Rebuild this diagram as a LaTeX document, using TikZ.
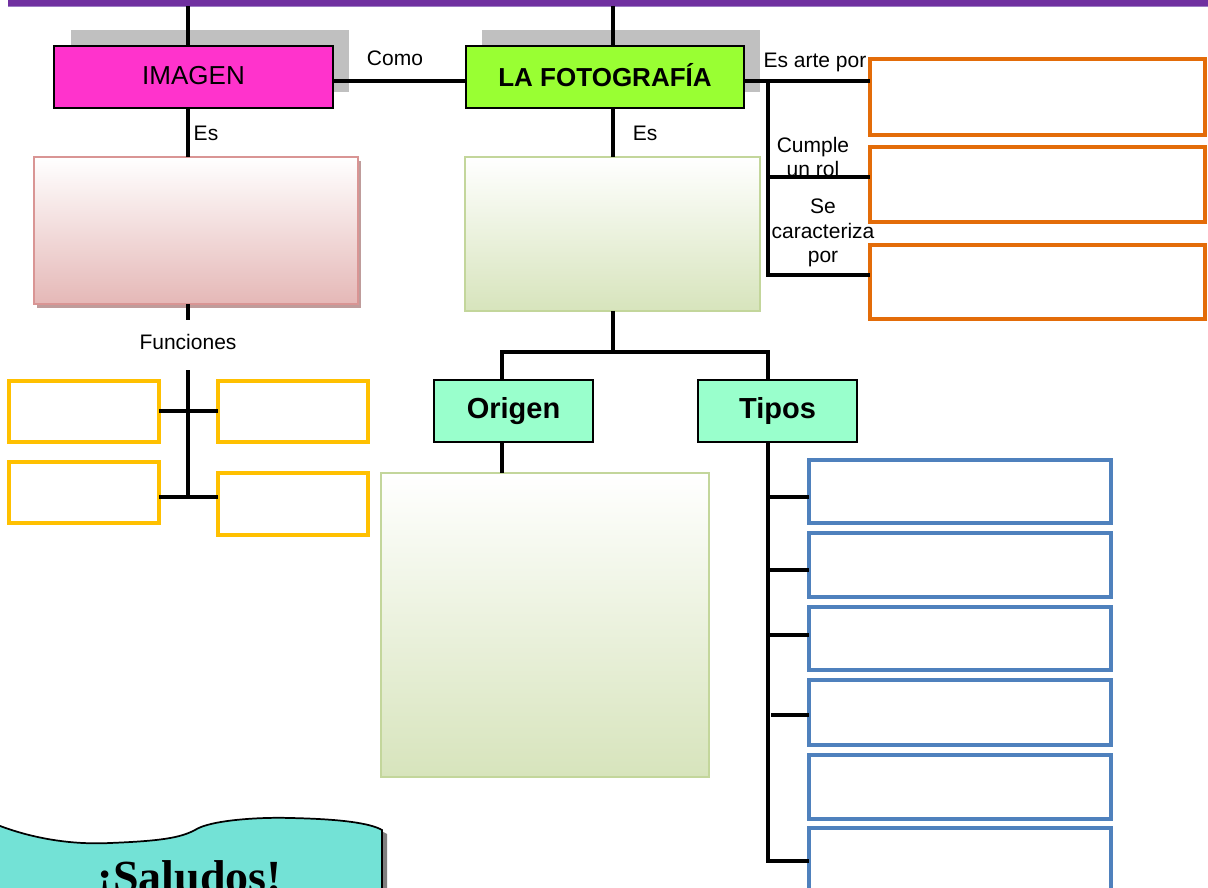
\documentclass[tikz,border=0pt]{standalone}
\usepackage{fontspec}
\setmainfont{Liberation Sans}
\newfontfamily\salfont{Liberation Serif}
\definecolor{purpleC}{HTML}{7030A0}
\definecolor{purpleL}{HTML}{9C7CC4}
\definecolor{magentaC}{HTML}{FF33CC}
\definecolor{limeC}{HTML}{99FF33}
\definecolor{shadowC}{HTML}{C0C0C0}
\definecolor{orangeC}{HTML}{E36C09}
\definecolor{yellowC}{HTML}{FFC000}
\definecolor{blueC}{HTML}{4F81BD}
\definecolor{mintC}{HTML}{99FFCC}
\definecolor{turqC}{HTML}{73E2D6}
\definecolor{pinkB}{HTML}{D99594}
\definecolor{pinkF}{HTML}{E5B8B7}
\definecolor{pinkS}{HTML}{BF9C9B}
\definecolor{greenB}{HTML}{C3D69B}
\definecolor{greenF}{HTML}{D7E4BC}
\definecolor{salShadow}{HTML}{7F7F7F}
\newcommand{\lblfont}{\fontsize{15.75}{18.4}\selectfont}
\tikzset{
  px/.style 2 args={minimum width=#1*0.75pt, minimum height=#2*0.75pt},
  every node/.style={inner sep=0pt, outer sep=0pt, font=\lblfont},
  conn/.style={draw=black, line width=2.6pt, line join=miter},
  titlebox/.style={draw=black, line width=1.5pt, font=\fontsize{19.5}{22}\selectfont},
  mintbox/.style={draw=black, line width=1.5pt, fill=mintC, font=\bfseries\fontsize{21.75}{25}\selectfont},
  obox/.style={draw=orangeC, line width=3pt, fill=white},
  ybox/.style={draw=yellowC, line width=2.6pt, fill=white},
  bbox/.style={draw=blueC, line width=2.8pt, fill=white},
  pinkbox/.style={draw=pinkB, line width=1.6pt, top color=white, bottom color=pinkF},
  greenbox/.style={draw=greenB, line width=1.8pt, top color=white, bottom color=greenF},
}
\begin{document}
\begin{tikzpicture}[x=0.75pt,y=-0.75pt]
\useasboundingbox (0,0) rectangle (1208,888);
\clip (0,0) rectangle (1208,888);
\fill[white] (0,0) rectangle (1208,888);
% top bar
\fill[purpleC] (8,-10) rectangle (1208,6);
\fill[purpleL] (8,6) rectangle (1208,7.5);
% grey shadows behind the title boxes
\fill[shadowC] (71,30) rectangle (349,92);
\fill[shadowC] (482,30) rectangle (760,92);
% pink box shadow
\fill[pinkS] (37,161) rectangle (361,308);
% saludos shape (shadow and shape)
\fill[salShadow] (4,830) .. controls (34,842) and (74,848) .. (114,846)
  .. controls (164,844) and (184,841) .. (199,833)
  .. controls (214,823) and (264,820) .. (294,821)
  .. controls (344,822) and (374,826) .. (387,834) -- (387,900) -- (4,900) -- cycle;
\draw[fill=turqC, line width=1.3pt] (-5,824) .. controls (30,838) and (70,845) .. (110,843)
  .. controls (160,841) and (180,838) .. (195,830)
  .. controls (210,820) and (260,817) .. (290,818)
  .. controls (340,819) and (370,823) .. (382,830) -- (382,900) -- (-5,900) -- cycle;
\node[anchor=base, font=\salfont\bfseries\fontsize{34.5}{40}\selectfont] (sal) at (190,892) {¡Saludos!};

% boxes
\node[titlebox, fill=magentaC, px={279}{62}] (imagen) at (193.5,77) {\raisebox{2pt}{IMAGEN}};
\node[titlebox, fill=limeC, px={278}{62}, font=\bfseries\fontsize{19.5}{22}\selectfont] (foto) at (605,77) {\raisebox{2.5pt}{LA FOTOGRAF\'IA}};
\node[pinkbox, px={324}{147}] (pinkb) at (196,230.5) {};
\node[greenbox, px={295}{154}] (greenb) at (612.5,234) {};
\node[obox, px={335}{76}] (o1) at (1037.5,97) {};
\node[obox, px={335}{75}] (o2) at (1037.5,184.5) {};
\node[obox, px={335}{74}] (o3) at (1037.5,282) {};
\node[ybox, px={150}{61}] (y1) at (84,411.5) {};
\node[ybox, px={150}{61}] (y2) at (293,411.5) {};
\node[ybox, px={150}{61}] (y3) at (84,492.5) {};
\node[ybox, px={150}{62}] (y4) at (293,504) {};
\node[mintbox, px={159}{62}] (origen) at (513.5,411) {Origen};
\node[mintbox, px={159}{62}] (tipos) at (777.5,411) {Tipos};
\node[greenbox, px={328}{304}] (greenc) at (545,625) {};
\node[bbox, px={302}{63}] (bl1) at (960,491.5) {};
\node[bbox, px={302}{64}] (bl2) at (960,565) {};
\node[bbox, px={302}{63}] (bl3) at (960,638.5) {};
\node[bbox, px={302}{65}] (bl4) at (960,712.5) {};
\node[bbox, px={302}{64}] (bl5) at (960,787) {};
\node[bbox, px={302}{64}] (bl6) at (960,860) {};

% connector coordinates
\coordinate (t1) at (188,6);
\coordinate (t2) at (613,6);
\coordinate (rt) at (768,81);
\coordinate (r2) at (768,177);
\coordinate (rb) at (768,275);
\coordinate (fe) at (188,320);
\coordinate (f1) at (188,370);
\coordinate (f2) at (188,497);
\coordinate (gs) at (613,352);
\coordinate (hl) at (502,352);
\coordinate (hr) at (768,352);
\coordinate (tb) at (768,861);

% connectors
\draw[conn] (t1) -- (t1 |- imagen.north);
\draw[conn] (t2) -- (t2 |- foto.north);
\draw[conn] (imagen.east |- 0,81) -- (foto.west |- 0,81);
\draw[conn] (foto.east |- 0,81) -- (o1.west |- 0,81);
\draw[conn] (rt) -- (rb) -- (o3.west |- rb);
\draw[conn] (r2) -- (o2.west |- r2);
\draw[conn] (imagen.south -| t1) -- (pinkb.north -| t1);
\draw[conn] (pinkb.south -| t1) -- (fe);
\draw[conn] (f1) -- (f2);
\draw[conn] (y1.east |- 0,411) -- (y2.west |- 0,411);
\draw[conn] (y3.east |- f2) -- (y4.west |- f2);
\draw[conn] (foto.south -| t2) -- (greenb.north -| t2);
\draw[conn] (greenb.south -| t2) -- (gs);
\draw[conn] (origen.north -| hl) -- (hl) -- (hr) -- (tipos.north -| hr);
\draw[conn] (origen.south -| hl) -- (greenc.north -| hl);
\draw[conn] (tipos.south -| hr) -- (tb) -- (bl6.west |- tb);
\draw[conn] (768,497) -- (bl1.west |- 0,497);
\draw[conn] (768,570) -- (bl2.west |- 0,570);
\draw[conn] (768,635) -- (bl3.west |- 0,635);
\draw[conn] (771,715) -- (bl4.west |- 0,715);

% labels
\node (lcomo) at (395,58) {Como};
\node (les1) at (206,133) {Es};
\node (les2) at (645,133) {Es};
\node (lfun) at (188,342) {Funciones};
\node (lart) at (815,62) {Es arte por};
\node[align=center] (lcum) at (813,157) {Cumple\\un rol};
\node[align=center] (lse) at (823,233) {Se\\caracteriza\\por};
\end{tikzpicture}
\end{document}
